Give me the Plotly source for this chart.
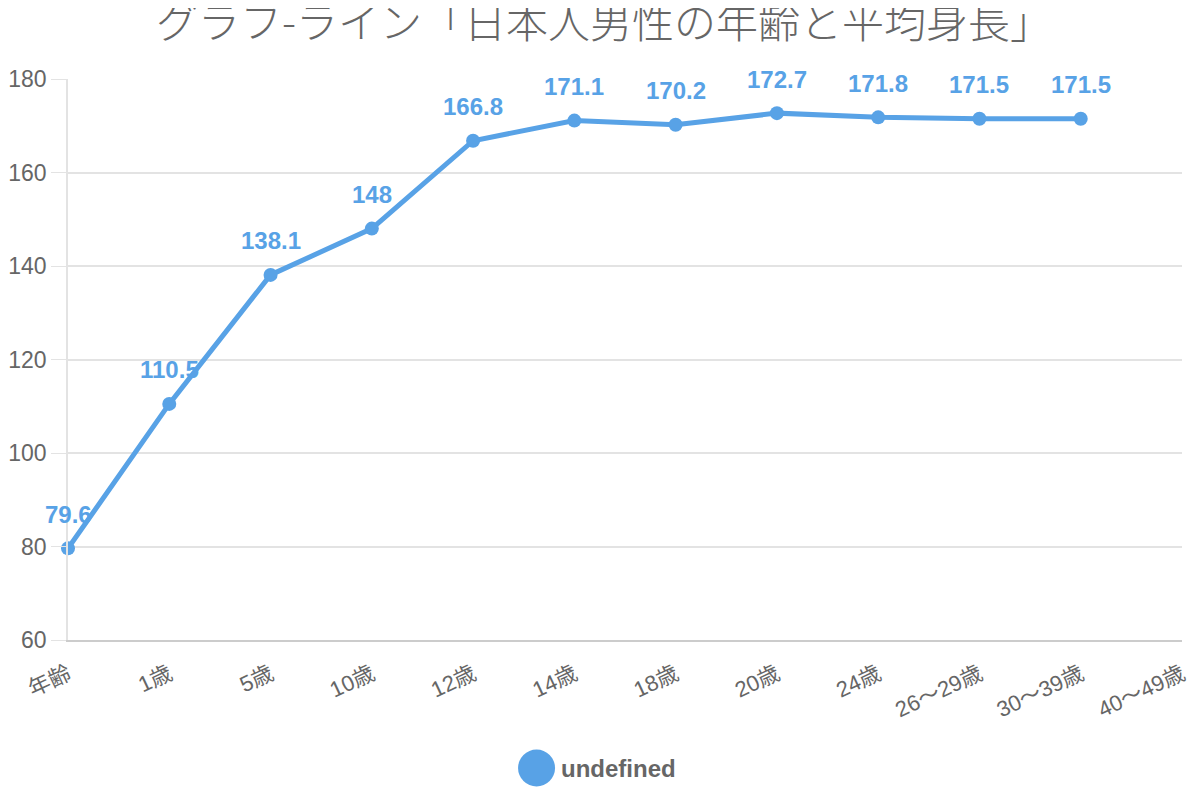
import plotly.graph_objects as go

# 年齢区分と平均身長 (cm)
categories = ["年齢", "1歳", "5歳", "10歳", "12歳", "14歳", "18歳", "20歳",
              "24歳", "26〜29歳", "30〜39歳", "40〜49歳"]
heights = [79.6, 110.5, 138.1, 148, 166.8, 171.1, 170.2, 172.7, 171.8, 171.5, 171.5]
y_ticks = [60, 80, 100, 120, 140, 160, 180]

blue = "#58a2e6"
gray = "#666666"
font_family = "Liberation Sans, Arial, Noto Sans CJK JP, sans-serif"

x_vals = categories[:len(heights)]

fig = go.Figure()
fig.add_trace(go.Scatter(
    x=x_vals, y=heights,
    mode="lines+markers",
    line=dict(color=blue, width=5),
    marker=dict(color=blue, size=14),
    cliponaxis=False,
    showlegend=False,
    hoverinfo="x+y",
))

# data labels above points
annotations = []
for c, v in zip(x_vals, heights):
    annotations.append(dict(
        x=c, y=v, xref="x", yref="y",
        text=f"{v:g}", showarrow=False, yshift=34,
        font=dict(family=font_family, size=24, color=blue, weight="bold"),
    ))

# legend drawn by hand (big circle + bold label)
annotations.append(dict(
    x=0.4407, y=-0.2282, xref="paper", yref="paper",
    xanchor="left", yanchor="middle", showarrow=False,
    text="undefined",
    font=dict(family=font_family, size=24, color=gray, weight="bold"),
))
shapes = [dict(
    type="circle", xref="paper", yref="paper",
    xsizemode="pixel", ysizemode="pixel",
    xanchor=0.4206, yanchor=-0.2282,
    x0=-18.5, x1=18.5, y0=-18.5, y1=18.5,
    fillcolor=blue, line=dict(width=0),
)]

# page body has an 8px margin, so the figure is 8px smaller on each side
fig.update_layout(
    width=1192, height=792,
    paper_bgcolor="white", plot_bgcolor="white",
    margin=dict(l=60, r=18, t=71, b=160),
    title=dict(
        text="グラフ-ライン「日本人男性の年齢と平均身長」",
        x=0.5, xanchor="center", y=1 - 15 / 792, yanchor="middle",
        font=dict(family="Noto Sans CJK JP, sans-serif", size=42, color=gray, weight=300),
    ),
    xaxis=dict(
        type="category", categoryorder="array", categoryarray=categories,
        range=[0, len(categories) - 1], automargin=False,
        showgrid=False, zeroline=False,
        showline=True, linecolor="#cccccc", linewidth=2,
        ticks="", tickangle=-25, ticklabelstandoff=11,
        tickfont=dict(family=font_family, size=22, color=gray),
    ),
    yaxis=dict(
        range=[60, 180], tickvals=y_ticks, automargin=False,
        showgrid=True, gridcolor="#e3e3e3", gridwidth=1.5,
        zeroline=False,
        showline=True, linecolor="#e3e3e3", linewidth=1.5,
        ticks="outside", ticklen=15, tickcolor="#e3e3e3",
        tickfont=dict(family=font_family, size=23, color=gray),
    ),
    annotations=annotations,
    shapes=shapes,
    showlegend=False,
)

fig.write_html("out.html")
